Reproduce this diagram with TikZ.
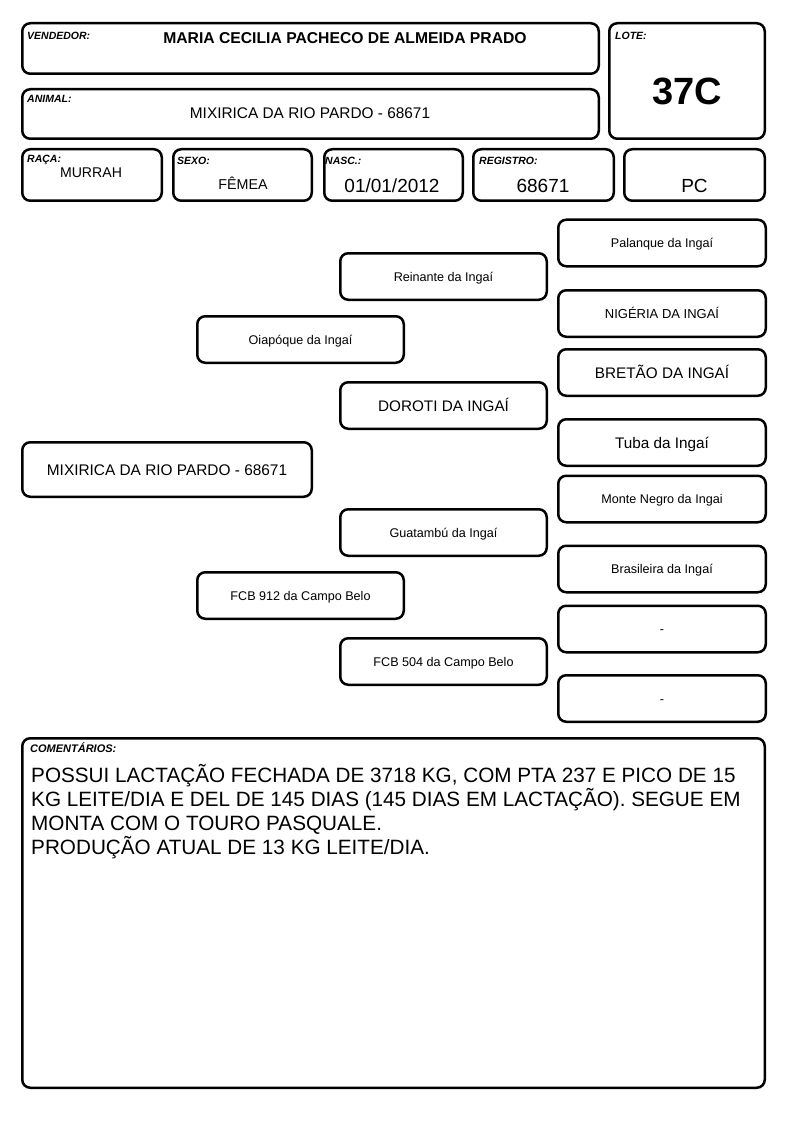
\documentclass[tikz,border=0pt]{standalone}
\usepackage{fontspec}
\setmainfont{Liberation Sans}

\tikzset{txt/.style={inner sep=0pt, anchor=base, font=\fontsize{#1}{#1}\selectfont, yshift=-0.358*#1pt},
  txtb/.style={txt=#1, font=\fontsize{#1}{#1}\selectfont\bfseries}}

\begin{document}
\begin{tikzpicture}[x=1pt, y=-1pt]
\tikzstyle{card} = [rectangle, rounded corners=8pt, draw=black, line width=2.5pt, inner sep=0pt]
\tikzstyle{field} = [inner sep=0pt, anchor=base west, yshift=-3.8pt, font=\fontsize{10.5}{12}\selectfont\bfseries\itshape]
\tikzstyle{parent} = [card, minimum width=206.5pt, minimum height=46.5pt, text depth=0pt]
\tikzstyle{small} = [font=\fontsize{12.6}{14}\selectfont, text height=9pt]
\tikzstyle{big} = [font=\fontsize{15.3}{17}\selectfont, text height=11pt]

\useasboundingbox (0,0) rectangle (794,1123);

% header boxes
\node (vendedor) [card, minimum width=576.5pt, minimum height=50.5pt] at (310.5,48.5) {};
\node (animal) [card, minimum width=576.5pt, minimum height=49.5pt] at (310.5,114) {};
\node (lote) [card, minimum width=155.5pt, minimum height=115.5pt] at (687,81) {};
\node (raca) [card, minimum width=139.5pt, minimum height=51.5pt] at (92,175) {};
\node (sexo) [card, minimum width=138.5pt, minimum height=51.5pt] at (242.5,175) {};
\node (nasc) [card, minimum width=138.5pt, minimum height=51.5pt] at (393.5,175) {};
\node (registro) [card, minimum width=140.5pt, minimum height=51.5pt] at (543.5,175) {};
\node (categoria) [card, minimum width=140.5pt, minimum height=51.5pt] at (694.5,175) {};

% field names
\node (vendedorlbl) [field] at (27,36) {VENDEDOR:};
\node (animallbl) [field] at (27,99) {ANIMAL:};
\node (lotelbl) [field] at (615,36) {LOTE:};
\node (racalbl) [field] at (27,159) {RAÇA:};
\node (sexolbl) [field] at (177,161) {SEXO:};
\node (nasclbl) [field] at (325,161) {NASC.:};
\node (registrolbl) [field] at (479,161) {REGISTRO:};

% field values
\node (vendedortxt) [txtb=15.7] at (345,38) {MARIA CECILIA PACHECO DE ALMEIDA PRADO};
\node (animaltxt) [txt=15.4] at (310,113) {MIXIRICA DA RIO PARDO - 68671};
\node (lotetxt) [txtb=38] at (687,91) {37C};
\node (racatxt) [txt=14.1] at (91,172) {MURRAH};
\node (sexotxt) [txt=14.3] at (243,184) {FÊMEA};
\node (nasctxt) [txt=19] at (392,186) {01/01/2012};
\node (registrotxt) [txt=19] at (543,186) {68671};
\node (categoriatxt) [txt=19] at (694.5,186) {PC};

% pedigree
\node (self) [card, minimum width=289.5pt, minimum height=54.5pt, text height=11pt, text depth=0pt, font=\fontsize{15.4}{18}\selectfont] at (167,469.5) {MIXIRICA DA RIO PARDO - 68671};

\node (pai) [parent, small] at (300.5,339.5) {Oiapóque da Ingaí};
\node (mae) [parent, small] at (300.5,595.5) {FCB 912 da Campo Belo};

\node (avopp) [parent, small] at (443.5,276.5) {Reinante da Ingaí};
\node (avopm) [parent, big] at (443.5,405.5) {DOROTI DA INGAÍ};
\node (avomp) [parent, small] at (443.5,532.5) {Guatambú da Ingaí};
\node (avomm) [parent, small] at (443.5,661.5) {FCB 504 da Campo Belo};

\node (bisa1) [parent, small, minimum width=207.5pt] at (662,243) {Palanque da Ingaí};
\node (bisa2) [parent, font=\fontsize{13}{15}\selectfont, text height=9.3pt, minimum width=207.5pt] at (662,313.5) {NIGÉRIA DA INGAÍ};
\node (bisa3) [parent, big, minimum width=207.5pt] at (662,372.5) {BRETÃO DA INGAÍ};
\node (bisa4) [parent, big, minimum width=207.5pt] at (662,442.5) {Tuba da Ingaí};
\node (bisa5) [parent, small, minimum width=207.5pt] at (662,499) {Monte Negro da Ingai};
\node (bisa6) [parent, small, minimum width=207.5pt] at (662,569) {Brasileira da Ingaí};
\node (bisa7) [parent, small, minimum width=207.5pt] at (662,629) {-};
\node (bisa8) [parent, small, minimum width=207.5pt] at (662,698.5) {-};

% comments
\node (obs) [card, minimum width=742.5pt, minimum height=349.5pt] at (393.5,913) {};
\node (obslbl) [field, yshift=0.2pt, font=\fontsize{11}{12}\selectfont\bfseries\itshape] at (30,749) {COMENTÁRIOS:};
\node (obstxt) [inner sep=0pt, anchor=base west, align=left, font=\fontsize{20.7}{24}\selectfont] at (31,854.4)
  {POSSUI LACTAÇÃO FECHADA DE 3718 KG, COM PTA 237 E PICO DE 15\\
   KG LEITE/DIA E DEL DE 145 DIAS (145 DIAS EM LACTAÇÃO). SEGUE EM\\
   MONTA COM O TOURO PASQUALE.\\
   PRODUÇÃO ATUAL DE 13 KG LEITE/DIA.};

\end{tikzpicture}
\end{document}
